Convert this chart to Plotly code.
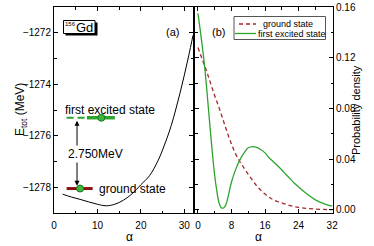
import plotly.graph_objects as go

# ---------------- data ----------------
# panel (a): total energy vs alpha
alpha_E = [2, 4, 6, 8, 10, 12, 14, 16, 18, 20, 22, 24, 25, 26, 27, 28, 29, 30, 31, 32]
E_tot = [-1278.27, -1278.38, -1278.47, -1278.57, -1278.66, -1278.72, -1278.66, -1278.50,
         -1278.25, -1277.90, -1277.55, -1276.95, -1276.55, -1276.10, -1275.60, -1275.00,
         -1274.35, -1273.65, -1272.90, -1272.10]

# energy levels
E_ground = -1278.05
dE = 2.750
E_excited = E_ground + dE
alpha_ground_peak = 6.0
alpha_excited_peak = 10.9

# panel (b): probability densities
alpha_gs = [0, 1, 2, 3, 4, 5, 6, 7, 8, 9, 10, 11, 12, 13, 14, 15, 16, 17, 18, 20, 22, 24, 26, 28, 30, 32]
p_gs = [0.128, 0.119, 0.110, 0.100, 0.090, 0.081, 0.071, 0.061, 0.052, 0.044, 0.038, 0.033,
        0.028, 0.0235, 0.019, 0.0155, 0.0125, 0.010, 0.008, 0.0055, 0.0035, 0.002, 0.0012,
        0.0007, 0.0004, 0.0002]

alpha_ex = [0, 0.5, 1, 1.5, 2, 2.5, 3, 3.5, 4, 4.5, 5, 5.5, 6, 6.5, 7, 8, 9, 10, 11, 12, 13,
            14, 15, 16, 17, 18, 19, 20, 21, 22, 23, 24, 26, 28, 30, 32]
p_ex = [0.155, 0.143, 0.130, 0.116, 0.099, 0.080, 0.061, 0.043, 0.027, 0.015, 0.006, 0.002,
        0.0015, 0.003, 0.008, 0.022, 0.032, 0.0395, 0.045, 0.049, 0.050, 0.0493, 0.0475, 0.045,
        0.041, 0.038, 0.0348, 0.0315, 0.028, 0.0245, 0.021, 0.018, 0.0125, 0.008, 0.005, 0.003]

x_ticks_a = [0, 10, 20, 30]
y_ticks_a = [-1278, -1276, -1274, -1272]
x_ticks_b = [0, 8, 16, 24, 32]
y_ticks_b = [0.00, 0.04, 0.08, 0.12, 0.16]

# ---------------- styling ----------------
FONT = "Liberation Sans, Arial, sans-serif"
GREEN = "#2ea32e"
DARKRED = "#a3282b"
LEVELRED = "#8b1212"
W, H = 374, 246
L, R, T, B = 54, 41, 7, 33
PW, PH = W - L - R, H - T - B


def px(x):
    return (x - L) / PW


def py(y):
    return (H - B - y) / PH


fig = go.Figure()

fig.add_trace(go.Scatter(x=alpha_E, y=E_tot, mode="lines", line=dict(color="black", width=1, shape="spline"),
                         xaxis="x", yaxis="y", showlegend=False))

# energy levels
fig.add_trace(go.Scatter(x=[2.9, 8.9], y=[E_ground, E_ground], mode="lines",
                         line=dict(color=LEVELRED, width=3), xaxis="x", yaxis="y", showlegend=False))
fig.add_trace(go.Scatter(x=[2.9, 7.6], y=[E_excited, E_excited], mode="lines",
                         line=dict(color=GREEN, width=2, dash="7px,4px"), xaxis="x", yaxis="y", showlegend=False))
fig.add_trace(go.Scatter(x=[7.6, 14.0], y=[E_excited, E_excited], mode="lines",
                         line=dict(color=GREEN, width=3.5), xaxis="x", yaxis="y", showlegend=False))
fig.add_trace(go.Scatter(x=[alpha_ground_peak, alpha_excited_peak], y=[E_ground, E_excited], mode="markers",
                         marker=dict(color="#3cb83c", size=7, line=dict(color="#1a7a1a", width=1)),
                         xaxis="x", yaxis="y", showlegend=False))

# panel (b)
fig.add_trace(go.Scatter(x=alpha_gs, y=p_gs, mode="lines", name="ground state",
                         line=dict(color=DARKRED, width=1.3, dash="4px,3px", shape="spline"),
                         xaxis="x2", yaxis="y2", showlegend=False))
fig.add_trace(go.Scatter(x=alpha_ex, y=p_ex, mode="lines", name="first excited state",
                         line=dict(color=GREEN, width=1.3, shape="spline"),
                         xaxis="x2", yaxis="y2", showlegend=False))

axis_common = dict(showline=True, linecolor="black", linewidth=1, mirror="ticks", ticks="inside",
                   ticklen=4, tickwidth=1, tickcolor="black", showgrid=False, zeroline=False,
                   automargin=False, tickfont=dict(family=FONT, size=10, color="black"))

fig.update_layout(
    width=W, height=H,
    margin=dict(l=L, r=R, t=T, b=B),
    paper_bgcolor="white", plot_bgcolor="rgba(0,0,0,0)",
    font=dict(family=FONT, color="black"),
    xaxis=dict(domain=[0, px(193)], range=[0, 32], tickvals=x_ticks_a, ticklabelstandoff=3,
               minor=dict(dtick=5, tick0=0, ticks="inside", ticklen=2.5, tickcolor="black"),
               anchor="y", **axis_common),
    yaxis=dict(domain=[0, 1], range=[-1279, -1271], tickvals=y_ticks_a,
               minor=dict(dtick=1, tick0=0, ticks="inside", ticklen=2.5, tickcolor="black"),
               anchor="x", **axis_common),
    xaxis2=dict(domain=[px(195), 1], range=[-0.7, 32.2], tickvals=x_ticks_b, ticklabelstandoff=3,
                minor=dict(dtick=4, tick0=0, ticks="inside", ticklen=2.5, tickcolor="black"),
                anchor="y2", **axis_common),
    yaxis2=dict(domain=[0, 1], range=[-0.0024, 0.16], tickvals=y_ticks_b,
                ticktext=["0.00", "0.04", "0.08", "0.12", "0.16"], side="right",
                minor=dict(dtick=0.02, tick0=0, ticks="inside", ticklen=2.5, tickcolor="black"),
                anchor="x2", **axis_common),
)

# axis titles (placed in paper coordinates)
fig.add_annotation(x=px(124), y=py(246), xref="paper", yref="paper", text="α", showarrow=False,
                   yanchor="bottom", font=dict(size=12, family=FONT))
fig.add_annotation(x=px(264), y=py(246), xref="paper", yref="paper", text="α", showarrow=False,
                   yanchor="bottom", font=dict(size=12, family=FONT))
fig.add_annotation(x=px(11), y=py(110), xref="paper", yref="paper", text="E<sub>tot</sub> (MeV)",
                   showarrow=False, textangle=-90, font=dict(size=12, family=FONT))
fig.add_annotation(x=px(364), y=py(110), xref="paper", yref="paper", text="Probability density",
                   showarrow=False, textangle=-90, font=dict(size=11, family=FONT))

# 156Gd label box with shadow
fig.add_shape(type="rect", xref="paper", yref="paper", x0=px(65.5), x1=px(97.5), y0=py(35.5), y1=py(22.5),
              fillcolor="black", line=dict(width=0), layer="below")
fig.add_shape(type="rect", xref="paper", yref="paper", x0=px(63.5), x1=px(95), y0=py(33.5), y1=py(20.5),
              fillcolor="white", line=dict(color="black", width=1), layer="below")
fig.add_annotation(x=px(64.3), y=py(24), xref="paper", yref="paper", text="156", showarrow=False,
                   xanchor="left", yanchor="middle", borderpad=0, font=dict(size=6, family=FONT))
fig.add_annotation(x=px(75.2), y=py(27.3), xref="paper", yref="paper", text="Gd", showarrow=False,
                   xanchor="left", yanchor="middle", borderpad=0, font=dict(size=13, family=FONT))

fig.add_annotation(x=px(172), y=py(24), xref="paper", yref="paper", text="(a)", showarrow=False,
                   font=dict(size=11, family=FONT))
fig.add_annotation(x=px(218), y=py(24), xref="paper", yref="paper", text="(b)", showarrow=False,
                   font=dict(size=11, family=FONT))

fig.add_annotation(x=2.0, y=-1275.0, xref="x", yref="y", text="first excited state", showarrow=False,
                   xanchor="left", font=dict(size=12, family=FONT))
fig.add_annotation(x=10.0, y=E_ground, xref="x", yref="y", text="ground state", showarrow=False,
                   xanchor="left", font=dict(size=12, family=FONT))

# double-headed arrow for the excitation energy
fig.add_annotation(x=5.3, y=E_excited - 0.12, ax=5.3, ay=E_ground + 0.05, xref="x", yref="y",
                   axref="x", ayref="y", text="", showarrow=True, arrowhead=2, arrowside="end+start",
                   arrowsize=1, arrowwidth=1, arrowcolor="black", startarrowhead=2, startarrowsize=1)
fig.add_annotation(x=9.6, y=-1276.72, xref="x", yref="y", text=f"{dE:.3f}MeV", showarrow=False,
                   bgcolor="white", font=dict(size=12, family=FONT))

# legend (panel b)
fig.add_shape(type="rect", xref="paper", yref="paper", x0=px(234), x1=px(325.5),
              y0=py(39.5), y1=py(16.5), line=dict(color="#555", width=1),
              fillcolor="white", layer="below")
fig.add_shape(type="line", xref="paper", yref="paper", x0=px(239), x1=px(256),
              y0=py(24), y1=py(24), line=dict(color=DARKRED, width=1.3, dash="4px,3px"),
              layer="below")
fig.add_shape(type="line", xref="paper", yref="paper", x0=px(235), x1=px(256),
              y0=py(33.5), y1=py(33.5), line=dict(color=GREEN, width=1.3),
              layer="below")
fig.add_annotation(x=px(261), y=py(24), xref="paper", yref="paper", text="ground state",
                   showarrow=False, xanchor="left", yanchor="middle", font=dict(size=9, family=FONT))
fig.add_annotation(x=px(256), y=py(33.5), xref="paper", yref="paper",
                   text="first excited state", showarrow=False, xanchor="left", yanchor="middle",
                   font=dict(size=9, family=FONT))

fig.write_html("out.html", config={"displayModeBar": False},
               post_script="document.body.style.margin='0px';document.body.style.overflow='hidden';")
